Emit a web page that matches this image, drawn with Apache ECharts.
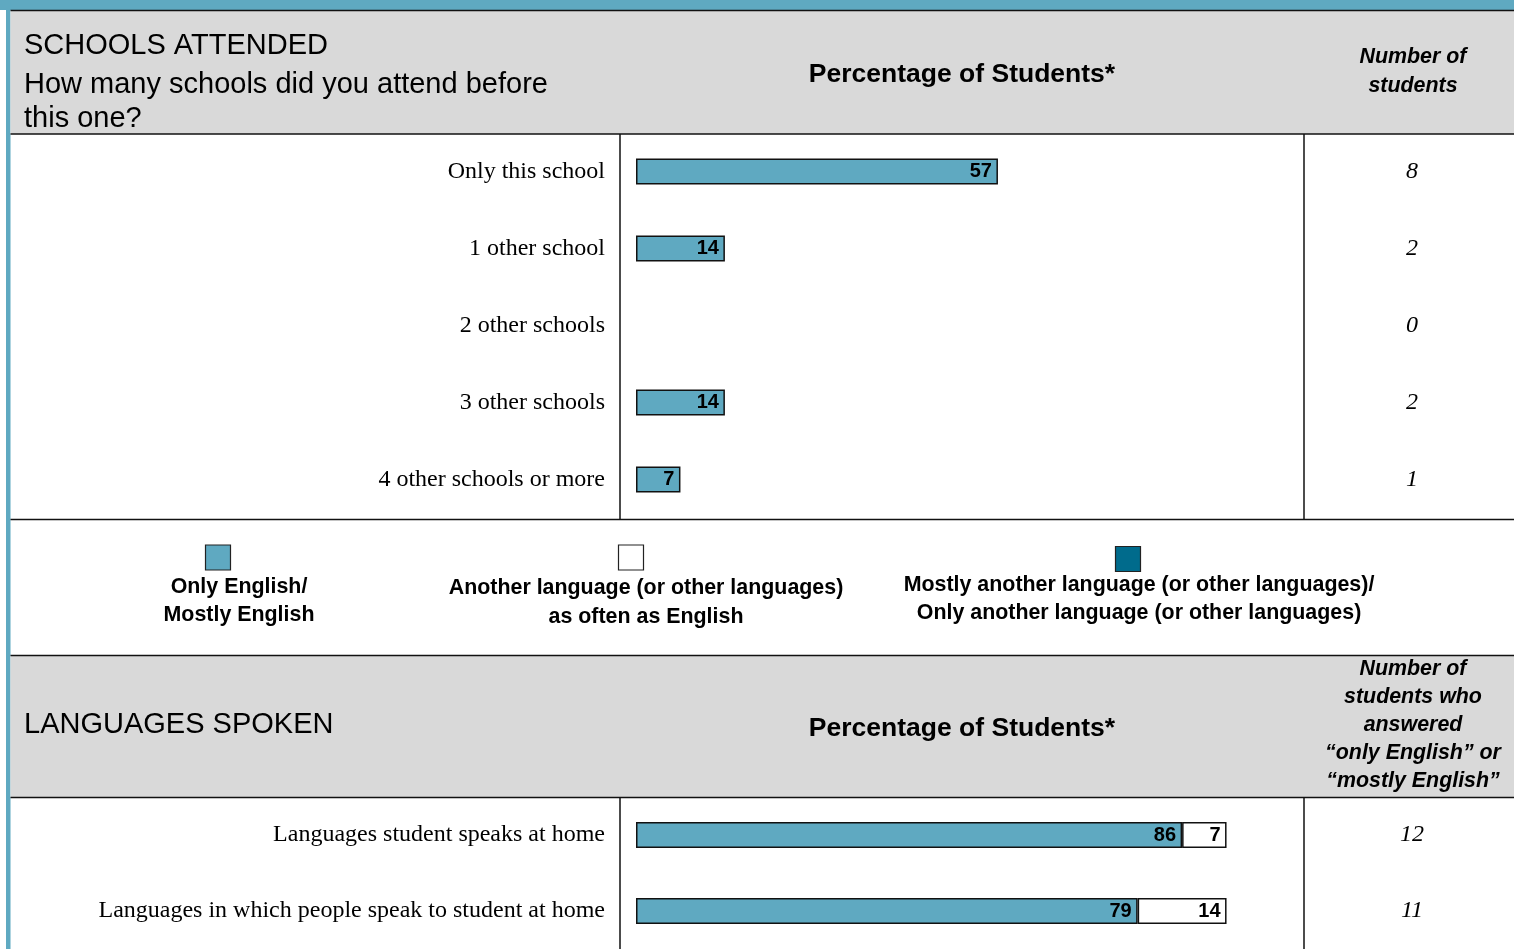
<!DOCTYPE html>
<html>
<head>
<meta charset="utf-8">
<script src="https://cdn.jsdelivr.net/npm/echarts@6/dist/echarts.min.js"></script>
<style>
    html, body { margin: 0; padding: 0; background: #fff; }
    #chart { width: 1514px; height: 949px; }
</style>
</head>
<body>
<div id="chart"></div>
<script>
    // schools attended
    var schoolCats = ['Only this school', '1 other school', '2 other schools', '3 other schools', '4 other schools or more'];
    var schoolPct = [57, 14, 0, 14, 7];
    var schoolCounts = [8, 2, 0, 2, 1];

    // languages spoken
    var langCats = ['Languages student speaks at home', 'Languages in which people speak to student at home'];
    var langEnglish = [86, 79];
    var langSame = [7, 14];
    var langOther = [0, 0];
    var langCounts = [12, 11];

    var BLUE = '#5fa9c1';
    var DARK = '#006b8c';
    var GRAY = '#d9d9d9';
    var SANS = 'Liberation Sans, Arial, sans-serif';
    var SERIF = 'Liberation Serif, Times New Roman, serif';

    function noZero(arr) {
        return arr.map(function (v) { return v > 0 ? v : null; });
    }

    var chart = echarts.init(document.getElementById('chart'));

    function line(x1, y1, x2, y2) {
        return { type: 'line', shape: { x1: x1, y1: y1, x2: x2, y2: y2 }, style: { stroke: '#111', lineWidth: 1.5 } };
    }
    function txt(x, y, text, font, align) {
        return { type: 'text', style: { x: x, y: y, text: text, font: font, fill: '#000', align: align || 'left', verticalAlign: 'middle' } };
    }
    function legendBox(cx, cy, color) {
        return { type: 'rect', shape: { x: cx - 12.5, y: cy - 12.5, width: 25, height: 25 }, style: { fill: color, stroke: '#222', lineWidth: 1.2 } };
    }

    var H1 = '29px ' + SANS;
    var H2 = 'bold 26.5px ' + SANS;
    var H3 = 'italic bold 21.4px ' + SANS;
    var LG = 'bold 21.4px ' + SANS;

    var graphics = [
        // page frame
        { type: 'rect', shape: { x: 0, y: 0, width: 1514, height: 10 }, style: { fill: BLUE } },
        { type: 'rect', shape: { x: 6, y: 0, width: 4.5, height: 949 }, style: { fill: BLUE } },
        // header 1
        { type: 'rect', shape: { x: 10.5, y: 11, width: 1504, height: 123 }, style: { fill: GRAY } },
        line(10.5, 10.5, 1514, 10.5),
        line(10.5, 134, 1514, 134),
        txt(24, 46, 'SCHOOLS ATTENDED', H1),
        txt(24, 85, 'How many schools did you attend before', H1),
        txt(24, 119, 'this one?', H1),
        txt(962, 75, 'Percentage of Students*', H2, 'center'),
        txt(1413, 57, 'Number of', H3, 'center'),
        txt(1413, 86, 'students', H3, 'center'),
        line(620, 134, 620, 519),
        line(1304, 134, 1304, 519),
        line(10.5, 519.5, 1514, 519.5),
        // legend
        legendBox(218, 557.5, BLUE),
        txt(239, 587, 'Only English/', LG, 'center'),
        txt(239, 615, 'Mostly English', LG, 'center'),
        legendBox(631, 557.5, '#fff'),
        txt(646, 588, 'Another language (or other languages)', LG, 'center'),
        txt(646, 617, 'as often as English', LG, 'center'),
        legendBox(1128, 559, DARK),
        txt(1139, 585, 'Mostly another language (or other languages)/', LG, 'center'),
        txt(1139, 613, 'Only another language (or other languages)', LG, 'center'),
        // header 2
        { type: 'rect', shape: { x: 10.5, y: 656, width: 1504, height: 141 }, style: { fill: GRAY } },
        line(10.5, 655.5, 1514, 655.5),
        line(10.5, 797.5, 1514, 797.5),
        txt(24, 725, 'LANGUAGES SPOKEN', H1),
        txt(962, 729, 'Percentage of Students*', H2, 'center'),
        txt(1413, 669, 'Number of', H3, 'center'),
        txt(1413, 697, 'students who', H3, 'center'),
        txt(1413, 725, 'answered', H3, 'center'),
        txt(1413, 753, '\u201Conly English\u201D or', H3, 'center'),
        txt(1413, 781, '\u201Cmostly English\u201D', H3, 'center'),
        line(620, 797.5, 620, 949),
        line(1304, 797.5, 1304, 949)
    ];

    var catLabel = { color: '#000', fontFamily: SERIF, fontSize: 24, margin: 31 };
    var countLabel = { color: '#000', fontFamily: SERIF, fontSize: 24, fontStyle: 'italic', align: 'center', margin: 143 };
    var barLabel = {
        show: true, position: 'insideRight', distance: 6, color: '#000',
        fontFamily: SANS, fontWeight: 'bold', fontSize: 20
    };
    var hidden = { axisLine: { show: false }, axisTick: { show: false }, splitLine: { show: false } };

    function catAxis(grid, data, label, pos) {
        return Object.assign({
            type: 'category', gridIndex: grid, inverse: true, position: pos, data: data, axisLabel: label
        }, hidden);
    }
    function valAxis(grid) {
        return Object.assign({ type: 'value', gridIndex: grid, min: 0, max: 100, axisLabel: { show: false } }, hidden);
    }

    var option = {
        animation: false,
        backgroundColor: '#fff',
        graphic: { elements: graphics },
        grid: [
            { left: 636, width: 635, top: 133, height: 385 },
            { left: 636, width: 635, top: 797, height: 154 }
        ],
        xAxis: [valAxis(0), valAxis(1)],
        yAxis: [
            catAxis(0, schoolCats, catLabel, 'left'),
            catAxis(0, schoolCounts.map(String), Object.assign({}, countLabel, { margin: 141 }), 'right'),
            catAxis(1, langCats, catLabel, 'left'),
            catAxis(1, langCounts.map(String), Object.assign({}, countLabel, { margin: 141 }), 'right')
        ],
        series: [
            {
                name: 'Schools', type: 'bar', xAxisIndex: 0, yAxisIndex: 0, barWidth: 26,
                data: noZero(schoolPct),
                itemStyle: { color: BLUE, borderColor: '#111', borderWidth: 1.5 },
                label: barLabel
            },
            {
                name: 'Only English/Mostly English', type: 'bar', stack: 'lang', xAxisIndex: 1, yAxisIndex: 2, barWidth: 26,
                data: noZero(langEnglish),
                itemStyle: { color: BLUE, borderColor: '#111', borderWidth: 1.5 },
                label: barLabel
            },
            {
                name: 'As often as English', type: 'bar', stack: 'lang', xAxisIndex: 1, yAxisIndex: 2, barWidth: 26,
                data: noZero(langSame),
                itemStyle: { color: '#fff', borderColor: '#111', borderWidth: 1.5 },
                label: barLabel
            },
            {
                name: 'Mostly/Only another language', type: 'bar', stack: 'lang', xAxisIndex: 1, yAxisIndex: 2, barWidth: 26,
                data: noZero(langOther),
                itemStyle: { color: DARK, borderColor: '#111', borderWidth: 1.5 },
                label: Object.assign({}, barLabel, { color: '#fff' })
            }
        ]
    };

    chart.setOption(option);
    window.onresize = function () { chart.resize(); };
</script>
</body>
</html>
